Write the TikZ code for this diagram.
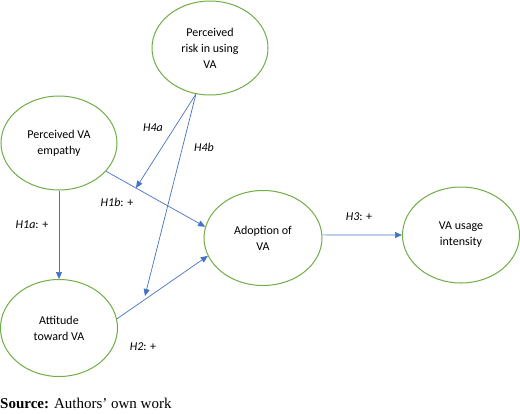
\documentclass[tikz,border=0pt]{standalone}
\usepackage{fontspec}
\setmainfont{Carlito}
\newfontfamily\srcfont{Liberation Serif}
\usetikzlibrary{shapes.geometric,arrows.meta}
\definecolor{ogreen}{RGB}{112,173,71}
\definecolor{oblue}{RGB}{68,114,196}
\tikzset{
  constr/.style={ellipse,draw=ogreen,line width=1pt,inner sep=0pt,align=center,
    font=\fontsize{12}{16}\selectfont},
  link/.style={draw=oblue,line width=0.7pt,-{Triangle[length=7pt,width=6pt]}},
  hlab/.style={font=\fontsize{12}{14}\selectfont,inner sep=0pt}
}
\begin{document}
\begin{tikzpicture}[x=1pt,y=-1pt]
\useasboundingbox (0,0) rectangle (520,413);
\node[constr,minimum width=116pt,minimum height=94pt] (risk) at (210,48) {Perceived\\risk in using\\VA};
\node[constr,minimum width=116pt,minimum height=94pt] (emp) at (59,143) {Perceived VA\\empathy};
\node[constr,minimum width=117pt,minimum height=97pt] (att) at (59,328) {Attitude\\toward VA};
\node[constr,minimum width=118pt,minimum height=95pt] (adop) at (263,238) {Adoption of\\VA};
\node[constr,minimum width=117pt,minimum height=96pt] (use) at (461,235) {VA usage\\intensity};
\coordinate (t4a) at (136,188);
\coordinate (t4b) at (145,296);
\draw[link] (emp.south) -- (att.north);
\draw[link] (emp.-31) -- (adop.169);
\draw[link] (att.9) -- (adop.198);
\draw[link] (risk.253) -- (t4a);
\draw[link] (risk.253) -- (t4b);
\draw[link] (adop.3) -- (use.west);
\node[hlab] (l4a) at (153,128) {\itshape H4a};
\node[hlab] (l4b) at (204,147) {\itshape H4b};
\node[hlab] (l1b) at (117,202) {\textit{H1b}: +};
\node[hlab] (l1a) at (32,225) {\textit{H1a}: +};
\node[hlab] (l3) at (359,217) {\textit{H3}: +};
\node[hlab] (l2) at (143,347) {\textit{H2}: +};
\node[anchor=west,inner sep=0pt,font=\srcfont\fontsize{15}{17}\selectfont] (src) at (0,403) {\textbf{Source:} Authors’ own work};
\end{tikzpicture}
\end{document}
